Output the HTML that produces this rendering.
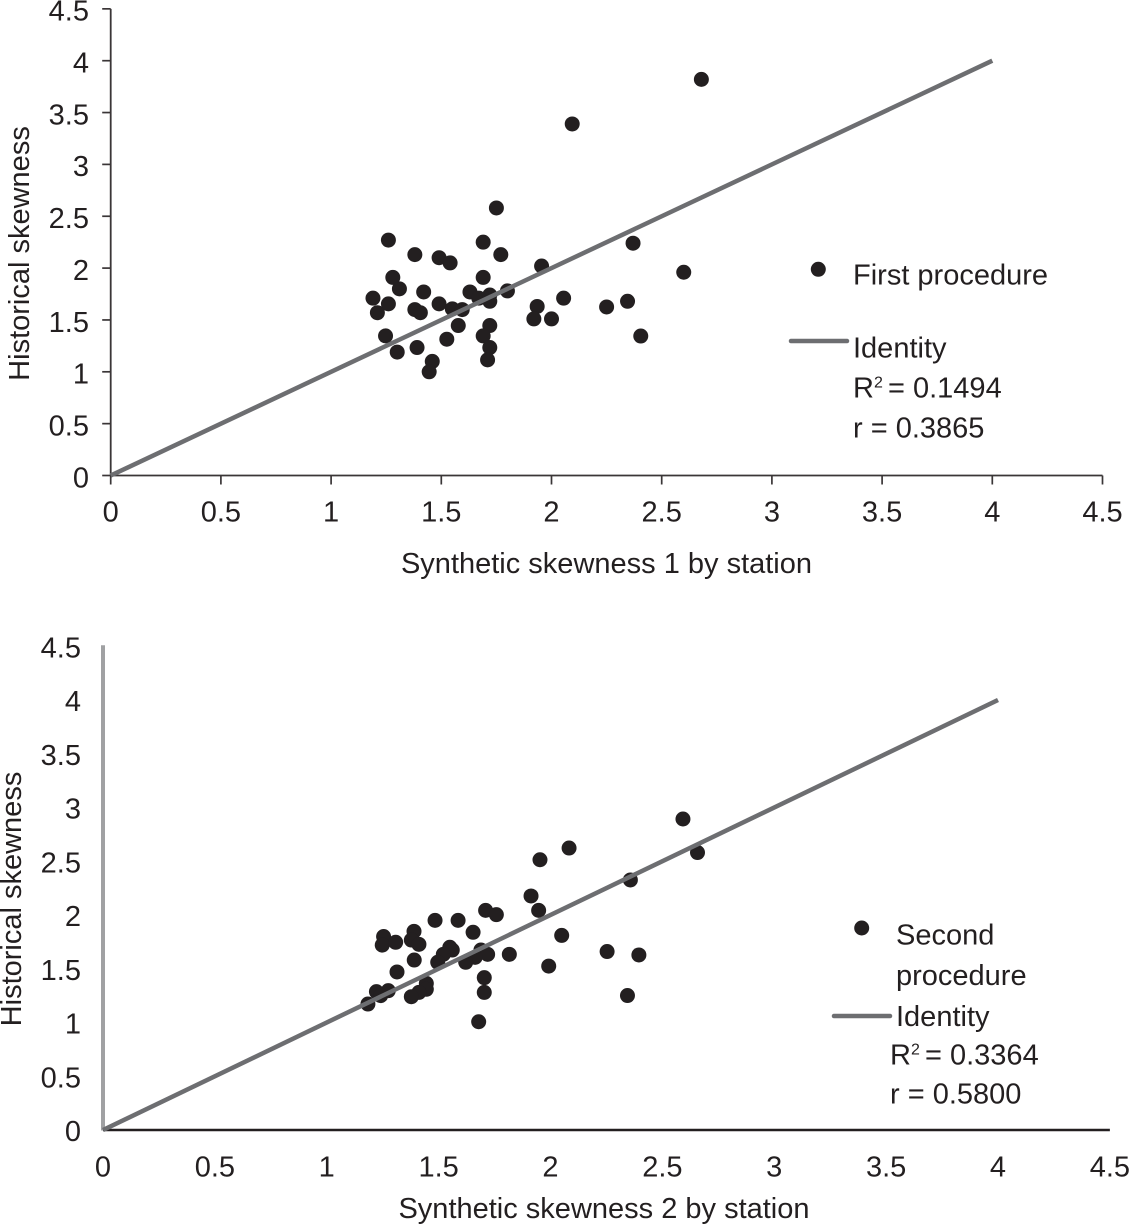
<!DOCTYPE html>
<html lang="en">
<head>
<meta charset="utf-8">
<title>Historical versus synthetic skewness</title>
<style>
html,body{margin:0;padding:0;background:#fff;}
body{width:1130px;height:1225px;overflow:hidden;}
svg{display:block;}
text{font-family:"Liberation Sans",Arial,sans-serif;fill:#231f20;font-size:29px;}
</style>
</head>
<body>
<svg id="chart" width="1130" height="1225" viewBox="0 0 1130 1225" xmlns="http://www.w3.org/2000/svg">
  <g id="panel-top">
    <text transform="translate(29,253.5) rotate(-90)" text-anchor="middle">Historical skewness</text>
    <text x="606.5" y="573" text-anchor="middle">Synthetic skewness 1 by station</text>
    <g>
      <circle cx="818.3" cy="269.3" r="7.5" fill="#231f20"/>
      <text x="853" y="284.5">First procedure</text>
      <line x1="791" y1="341" x2="847" y2="341" stroke="#6d6e71" stroke-width="4.5" stroke-linecap="round"/>
      <text x="853" y="357.7">Identity</text>
      <text x="853" y="397.5">R<tspan font-size="16" dy="-10">2</tspan><tspan x="888" dy="10">= 0.1494</tspan></text>
      <text x="853" y="437.7">r = 0.3865</text>
    </g>
  </g>
  <g id="panel-bottom">
    <text transform="translate(21,899) rotate(-90)" text-anchor="middle">Historical skewness</text>
    <text x="604" y="1218" text-anchor="middle">Synthetic skewness 2 by station</text>
    <g>
      <circle cx="861.7" cy="928" r="7.5" fill="#231f20"/>
      <text x="896" y="944.7">Second</text>
      <text x="896" y="985">procedure</text>
      <line x1="834" y1="1016" x2="890" y2="1016" stroke="#6d6e71" stroke-width="4.5" stroke-linecap="round"/>
      <text x="896" y="1026">Identity</text>
      <text x="890" y="1064.7">R<tspan font-size="16" dy="-10">2</tspan><tspan x="925" dy="10">= 0.3364</tspan></text>
      <text x="890" y="1103.7">r = 0.5800</text>
    </g>
  </g>
</svg>
<script>
var tickValues = [0, 0.5, 1, 1.5, 2, 2.5, 3, 3.5, 4, 4.5];
var tickLabels = ["0", "0.5", "1", "1.5", "2", "2.5", "3", "3.5", "4", "4.5"];
var identityValues = [0, 4];

var firstSynthetic = [1.75, 1.26, 1.69, 1.38, 1.77, 1.49, 1.54, 1.955, 1.28, 1.69, 1.31, 1.42, 1.19, 1.63, 1.80, 1.72, 1.67, 1.72, 1.26, 2.055, 1.21, 1.49, 1.38, 1.405, 1.55, 1.595, 1.935, 1.92, 2.00, 1.577, 1.72, 1.69, 1.247, 1.525, 1.30, 1.39, 1.72, 1.71, 1.459, 1.445, 2.68, 2.094, 2.37, 2.60, 2.25, 2.345, 2.405];
var firstHistorical = [2.58, 2.27, 2.25, 2.13, 2.13, 2.10, 2.05, 2.02, 1.91, 1.91, 1.80, 1.77, 1.71, 1.77, 1.78, 1.74, 1.71, 1.68, 1.655, 1.71, 1.57, 1.655, 1.60, 1.57, 1.607, 1.60, 1.63, 1.51, 1.51, 1.446, 1.446, 1.346, 1.346, 1.314, 1.19, 1.234, 1.234, 1.115, 1.10, 1.00, 3.82, 3.39, 2.24, 1.96, 1.625, 1.68, 1.345];

var secondSynthetic = [2.083, 1.953, 1.913, 1.947, 1.71, 1.758, 1.484, 1.587, 1.654, 1.39, 1.378, 1.412, 1.254, 1.248, 1.308, 2.05, 1.55, 1.561, 1.521, 1.496, 1.391, 1.314, 1.689, 1.719, 1.816, 1.663, 1.621, 1.992, 1.704, 1.704, 1.445, 1.445, 1.412, 1.378, 1.275, 1.222, 1.241, 1.184, 1.679, 2.592, 2.657, 2.357, 2.253, 2.395, 2.344];
var secondHistorical = [2.623, 2.514, 2.177, 2.043, 2.043, 2.003, 1.95, 1.95, 1.839, 1.848, 1.767, 1.727, 1.80, 1.72, 1.746, 1.81, 1.70, 1.674, 1.634, 1.56, 1.581, 1.47, 1.674, 1.634, 1.634, 1.606, 1.56, 1.525, 1.417, 1.28, 1.364, 1.309, 1.28, 1.24, 1.296, 1.287, 1.25, 1.172, 1.007, 2.893, 2.581, 2.326, 1.66, 1.628, 1.251];

var NS = 'http://www.w3.org/2000/svg';

function make(parent, tag, attrs) {
  var el = document.createElementNS(NS, tag);
  for (var k in attrs) el.setAttribute(k, attrs[k]);
  parent.appendChild(el);
  return el;
}

function drawPanel(panel, opts, xs, ys) {
  function sx(v) { return opts.x0 + v * opts.kx; }
  function sy(v) { return opts.y0 - v * opts.ky; }
  var i, el;

  // Tick labels
  for (i = 0; i < tickValues.length; i++) {
    el = make(panel, 'text', {x: sx(tickValues[i]), y: opts.xLabelY, 'text-anchor': 'middle'});
    el.textContent = tickLabels[i];
    
    

    el = make(panel, 'text', {x: opts.yLabelX, y: sy(tickValues[i]) + opts.yLabelDy, 'text-anchor': 'end'});
    el.textContent = tickLabels[i];
    
    

    if (opts.ticks) {
      el = make(panel, 'line', {x1: sx(tickValues[i]), x2: sx(tickValues[i]), y1: opts.y0, y2: opts.y0 + 9, stroke: '#3a3637', 'stroke-width': 1.7});
      
      

      el = make(panel, 'line', {x1: sx(0) - 8.5, x2: sx(0), y1: sy(tickValues[i]), y2: sy(tickValues[i]), stroke: '#3a3637', 'stroke-width': 1.7});
      
      
    }
  }

  // Axes
  el = make(panel, 'line', {x1: sx(0), x2: sx(0), y1: opts.y0 + 0.5, y2: sy(4.5) - opts.yOver, stroke: opts.yAxisColor, 'stroke-width': opts.yAxisWidth});
  
  

  el = make(panel, 'line', {x1: sx(0), x2: sx(4.5), y1: opts.y0, y2: opts.y0, stroke: opts.xAxisColor, 'stroke-width': opts.xAxisWidth});
  
  

  // Points
  for (i = 0; i < xs.length; i++) {
    el = make(panel, 'circle', {cx: sx(xs[i]), cy: sy(ys[i]), r: 7.5, fill: '#231f20'});
    
    
  }

  // Identity line
  el = make(panel, 'line', {x1: sx(identityValues[0]), y1: sy(identityValues[0]), x2: sx(identityValues[1]), y2: sy(identityValues[1]), stroke: '#6d6e71', 'stroke-width': 4.5});
  
  
}

drawPanel(document.getElementById('panel-top'), {
  x0: 110.7, kx: 220.4, y0: 475.5, ky: 103.7,
  xLabelY: 521.3, yLabelX: 89, yLabelDy: 11.8,
  ticks: true, yOver: 0,
  yAxisColor: '#3a3637', yAxisWidth: 1.8,
  xAxisColor: '#3a3637', xAxisWidth: 1.8
}, firstSynthetic, firstHistorical);

drawPanel(document.getElementById('panel-bottom'), {
  x0: 103, kx: 223.75, y0: 1130, ky: 107.5,
  xLabelY: 1176.5, yLabelX: 81, yLabelDy: 11,
  ticks: false, yOver: 1,
  yAxisColor: '#a0a1a3', yAxisWidth: 4,
  xAxisColor: '#231f20', xAxisWidth: 2.4
}, secondSynthetic, secondHistorical);
</script>
</body>
</html>
